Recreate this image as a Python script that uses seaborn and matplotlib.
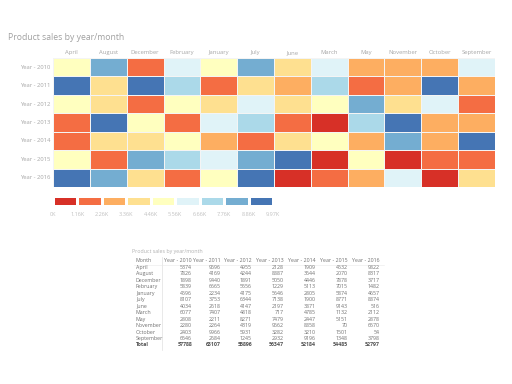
import matplotlib
matplotlib.use("Agg")
import matplotlib.pyplot as plt
import numpy as np
import pandas as pd
import seaborn as sns
from matplotlib.colors import ListedColormap, BoundaryNorm

months = ["April", "August", "December", "February", "January", "July",
          "June", "March", "May", "November", "October", "September"]
years = ["Year - 2010", "Year - 2011", "Year - 2012", "Year - 2013",
         "Year - 2014", "Year - 2015", "Year - 2016"]

sales_2010 = [5374, 7826, 1898, 5839, 4596, 8107, 4034, 6077, 2808, 2280, 2403, 6546]
sales_2011 = [9696, 4169, 9440, 6665, 2234, 3753, 2618, 7407, 2211, 2264, 9966, 2684]
sales_2012 = [4955, 4244, 1891, 5556, 4175, 6344, 4147, 4818, 8271, 4319, 5931, 1245]
sales_2013 = [2128, 8887, 5050, 1229, 5646, 7138, 2197, 717, 7479, 9662, 3282, 2932]
sales_2014 = [1909, 3644, 4446, 5113, 2805, 1900, 3871, 4785, 2447, 8858, 3210, 9196]
sales_2015 = [4532, 2070, 7878, 7015, 5874, 8771, 9143, 1132, 5151, 70, 1501, 1348]
sales_2016 = [9822, 8317, 3717, 1482, 4657, 8874, 516, 2112, 2878, 6570, 54, 3798]

legend_labels = ["0K", "1.16K", "2.26K", "3.36K", "4.46K", "5.56K",
                 "6.66K", "7.76K", "8.86K", "9.97K"]

palette = ["#d73027", "#f46d43", "#fdae61", "#fee090", "#ffffbf",
           "#e0f3f8", "#abd9e9", "#74add1", "#4575b4"]

df = pd.DataFrame([sales_2010, sales_2011, sales_2012, sales_2013,
                   sales_2014, sales_2015, sales_2016],
                  index=years, columns=months)

# equal-width bins from min to max, like the report's diverging scale
bounds = np.linspace(df.values.min(), df.values.max(), len(palette) + 1)
bounds[-1] += 1
cmap = ListedColormap(palette)
norm = BoundaryNorm(bounds, cmap.N)

plt.rcParams["font.family"] = ["Open Sans", "DejaVu Sans"]
label_col = "#a6a6a6"
W, H = 512, 384

fig = plt.figure(figsize=(5.12, 3.84), dpi=100)
fig.text(8 / W, 1 - 38 / H, "Product sales by year/month", fontsize=6.2,
         color="#a0a0a0", va="center", ha="left")

# main heatmap
ax = fig.add_axes([53 / W, 1 - 187 / H, 442 / W, 129 / H])
sns.heatmap(df, cmap=cmap, norm=norm, cbar=False, linewidths=0.7,
            linecolor="#f4f4f4", ax=ax)
ax.xaxis.tick_top()
ax.tick_params(length=0, pad=2, colors=label_col, labelsize=4.2)
ax.set_xticklabels(months, rotation=0)
ax.set_yticklabels(years, rotation=0)
ax.set_xlabel("")
ax.set_ylabel("")

# legend strip
lax = fig.add_axes([53 / W, 1 - 206 / H, 220 / W, 10.5 / H])
mids = (bounds[:-1] + bounds[1:]) / 2
sns.heatmap(pd.DataFrame([mids]), cmap=cmap, norm=norm, cbar=False,
            linewidths=0.8, linecolor="white", ax=lax)
lax.set_xticks(np.arange(len(legend_labels)))
lax.set_xticklabels(legend_labels, rotation=0)
lax.set_yticks([])
lax.tick_params(length=0, pad=4, colors="#c0c0c0", labelsize=4)

# data table
tcol = "#707070"
fig.text(132 / W, 1 - 252 / H, "Product sales by year/month", fontsize=3.8,
         color="#b0b0b0", va="center")
row_y = 261
step = 6.46
right_edges = [192, 221, 252, 284, 316, 348, 380]
fig.text(136 / W, 1 - row_y / H, "Month", fontsize=3.8, color=tcol, va="center")
for j, yr in enumerate(years):
    fig.text(right_edges[j] / W, 1 - row_y / H, yr, fontsize=3.8, color=tcol,
             va="center", ha="right")
for i, m in enumerate(months):
    y = 1 - (row_y + step * (i + 1)) / H
    fig.text(136 / W, y, m, fontsize=3.8, color=tcol, va="center")
    for j, yr in enumerate(years):
        fig.text(right_edges[j] / W, y, str(df.loc[yr, m]), fontsize=3.8,
                 color=tcol, va="center", ha="right")
y = 1 - (row_y + step * 13) / H
fig.text(136 / W, y, "Total", fontsize=3.8, color="#505050", va="center",
         fontweight="bold")
totals = df.sum(axis=1)
for j, yr in enumerate(years):
    fig.text(right_edges[j] / W, y, str(totals[yr]), fontsize=3.8,
             color="#505050", va="center", ha="right", fontweight="bold")

fig.add_artist(plt.Line2D([162 / W, 162 / W], [1 - 257 / H, 1 - 350 / H],
                          color="#e0e0e0", lw=0.5))
fig.add_artist(plt.Line2D([134 / W, 384 / W], [1 - 264.5 / H, 1 - 264.5 / H],
                          color="#e8e8e8", lw=0.4))

fig.savefig("out.png", dpi=100)
